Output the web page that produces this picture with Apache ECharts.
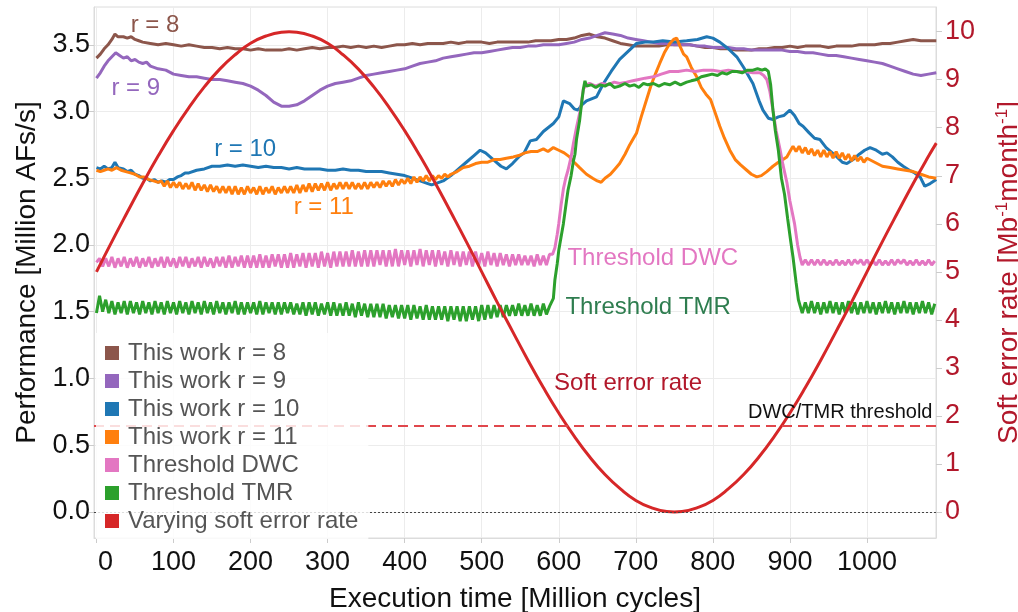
<!DOCTYPE html>
<html>
<head>
<meta charset="utf-8">
<title>Performance and soft error rate over execution time</title>
<script src="https://cdn.jsdelivr.net/npm/echarts@6.0.0/dist/echarts.min.js"></script>
<style>
  html, body { margin: 0; padding: 0; background: #ffffff; }
  #chart { width: 1018px; height: 612px; }
</style>
</head>
<body>
<div id="chart"></div>
<script>
// ---------- axis ticks ----------
const xTicks = [0, 100, 200, 300, 400, 500, 600, 700, 800, 900, 1000];
const perfTicks = [0, 0.5, 1.0, 1.5, 2.0, 2.5, 3.0, 3.5];
const serTicks = [0, 1, 2, 3, 4, 5, 6, 7, 8, 9, 10];
const serThreshold = 1.8;   // DWC/TMR switching threshold [Mb^-1 month^-1]

const seriesNames = [
  'This work r = 8', 'This work r = 9', 'This work r = 10', 'This work r = 11',
  'Threshold DWC', 'Threshold TMR', 'Varying soft error rate'
];

// ---------- performance [Million AFs/s] vs execution time [Million cycles] ----------
const r8 = [[0,3.40],[5,3.43],[10,3.47],[15,3.50],[20,3.54],[24,3.58],[28,3.56],[35,3.56],[40,3.55],[45,3.56],
  [50,3.54],[55,3.53],[60,3.52],[70,3.51],[80,3.50],[90,3.51],[100,3.50],[110,3.49],[120,3.50],[130,3.49],
  [140,3.48],[150,3.48],[160,3.47],[170,3.48],[180,3.47],[190,3.47],[200,3.46],[210,3.47],[220,3.46],[230,3.46],
  [240,3.46],[250,3.47],[260,3.46],[270,3.47],[280,3.48],[290,3.47],[300,3.48],[310,3.48],[320,3.49],[330,3.48],
  [340,3.49],[350,3.48],[360,3.49],[370,3.48],[380,3.49],[390,3.50],[400,3.50],[410,3.51],[420,3.50],[430,3.51],
  [440,3.51],[450,3.51],[460,3.52],[470,3.51],[480,3.52],[490,3.52],[500,3.52],[510,3.51],[520,3.52],[530,3.52],
  [540,3.52],[550,3.52],[560,3.52],[570,3.53],[580,3.53],[590,3.53],[600,3.54],[610,3.54],[620,3.55],[630,3.57],
  [640,3.58],[650,3.56],[660,3.55],[670,3.53],[680,3.51],[690,3.50],[700,3.49],[710,3.49],[720,3.49],[730,3.49],
  [740,3.50],[750,3.50],[760,3.50],[770,3.50],[780,3.49],[790,3.48],[800,3.48],[810,3.47],[820,3.47],[830,3.46],
  [840,3.46],[850,3.46],[860,3.47],[870,3.47],[880,3.48],[890,3.48],[900,3.49],[910,3.48],[920,3.49],[930,3.49],
  [940,3.49],[950,3.48],[960,3.49],[970,3.49],[980,3.49],[990,3.50],[1000,3.50],[1010,3.50],[1020,3.51],[1030,3.51],
  [1040,3.52],[1050,3.53],[1060,3.54],[1070,3.53],[1080,3.53],[1090,3.53]];

const r9 = [[0,3.25],[5,3.29],[10,3.34],[15,3.38],[20,3.41],[25,3.44],[30,3.42],[35,3.40],[40,3.41],[45,3.38],
  [50,3.39],[55,3.37],[60,3.36],[65,3.37],[70,3.34],[80,3.32],[90,3.31],[100,3.28],[110,3.27],[120,3.26],
  [130,3.26],[140,3.25],[150,3.24],[160,3.24],[170,3.23],[180,3.22],[190,3.21],[200,3.19],[210,3.16],[220,3.12],
  [230,3.07],[240,3.04],[250,3.04],[260,3.05],[270,3.08],[280,3.12],[290,3.16],[300,3.19],[310,3.21],[320,3.22],
  [330,3.23],[340,3.25],[350,3.27],[360,3.28],[370,3.29],[380,3.30],[390,3.31],[400,3.32],[410,3.34],[420,3.36],
  [430,3.37],[440,3.38],[450,3.40],[460,3.41],[470,3.42],[480,3.43],[490,3.44],[500,3.44],[510,3.45],[520,3.46],
  [530,3.47],[540,3.48],[550,3.48],[560,3.49],[570,3.49],[580,3.50],[590,3.50],[600,3.50],[610,3.51],[620,3.52],
  [630,3.54],[640,3.55],[650,3.57],[660,3.59],[670,3.58],[680,3.57],[690,3.55],[700,3.54],[710,3.53],[720,3.52],
  [730,3.51],[740,3.51],[750,3.50],[760,3.50],[770,3.50],[780,3.49],[790,3.49],[800,3.48],[810,3.48],[820,3.48],
  [830,3.47],[840,3.47],[850,3.46],[860,3.46],[870,3.46],[880,3.46],[890,3.46],[900,3.45],[910,3.45],[920,3.44],
  [930,3.44],[940,3.43],[950,3.42],[960,3.42],[970,3.41],[980,3.40],[990,3.39],[1000,3.38],[1010,3.37],[1020,3.36],
  [1030,3.34],[1040,3.32],[1050,3.30],[1060,3.28],[1070,3.27],[1080,3.28],[1090,3.29]];

const r10 = [[0,2.58],[5,2.57],[10,2.59],[15,2.57],[20,2.58],[24,2.62],[28,2.58],[35,2.57],[40,2.55],[45,2.56],
  [50,2.53],[55,2.52],[60,2.50],[65,2.50],[70,2.48],[75,2.49],[80,2.47],[85,2.48],[90,2.47],[95,2.49],
  [100,2.49],[105,2.51],[110,2.52],[115,2.54],[120,2.54],[130,2.56],[140,2.57],[150,2.59],[160,2.59],[170,2.60],
  [180,2.59],[190,2.60],[200,2.59],[210,2.58],[220,2.59],[230,2.58],[240,2.58],[250,2.57],[260,2.58],[270,2.57],
  [280,2.57],[290,2.57],[300,2.56],[310,2.56],[320,2.57],[330,2.56],[340,2.56],[350,2.55],[360,2.55],[370,2.55],
  [380,2.54],[390,2.53],[400,2.52],[410,2.50],[420,2.48],[430,2.46],[435,2.45],[440,2.46],[450,2.48],[460,2.52],
  [470,2.57],[480,2.62],[490,2.67],[498,2.71],[505,2.69],[515,2.64],[525,2.59],[532,2.57],[540,2.61],[548,2.66],
  [555,2.69],[563,2.78],[571,2.79],[580,2.85],[593,2.91],[600,2.96],[606,3.08],[614,3.06],[620,3.02],[625,3.01],
  [630,3.05],[636,3.08],[649,3.11],[658,3.21],[668,3.30],[679,3.39],[690,3.45],[701,3.51],[712,3.52],[723,3.52],
  [735,3.53],[750,3.52],[766,3.53],[780,3.54],[792,3.56],[800,3.55],[809,3.52],[820,3.47],[831,3.41],[840,3.33],
  [852,3.21],[860,3.08],[865,3.01],[872,2.95],[878,2.94],[885,2.96],[892,2.97],[900,3.01],[906,2.97],[912,2.91],
  [917,2.89],[925,2.84],[932,2.80],[939,2.79],[947,2.73],[955,2.69],[961,2.66],[968,2.62],[974,2.61],[982,2.64],
  [990,2.68],[997,2.71],[1004,2.73],[1012,2.71],[1020,2.68],[1026,2.69],[1033,2.66],[1040,2.62],[1047,2.59],[1055,2.56],
  [1062,2.54],[1069,2.51],[1075,2.44],[1082,2.46],[1090,2.49]];

const r11Head = [[0,2.56],[5,2.55],[10,2.56],[15,2.57],[20,2.56],[26,2.58],[32,2.56],[38,2.55],[44,2.54],[50,2.53],
  [56,2.51],[62,2.51],[68,2.49],[74,2.48],[80,2.47]];
// r = 11, every 4 Mcycles from 84 to 456
const r11WaveA = [2.48,2.44,2.48,2.43,2.47,2.43,2.47,2.42,2.46,2.42,
  2.47,2.41,2.46,2.41,2.45,2.40,2.45,2.40,2.44,2.39,
  2.44,2.39,2.44,2.38,2.44,2.38,2.43,2.38,2.44,2.39,
  2.43,2.38,2.44,2.38,2.43,2.39,2.44,2.38,2.43,2.39,
  2.44,2.39,2.44,2.39,2.45,2.39,2.45,2.40,2.46,2.40,
  2.46,2.41,2.46,2.41,2.47,2.41,2.46,2.42,2.47,2.42,
  2.47,2.42,2.47,2.42,2.46,2.42,2.47,2.42,2.47,2.43,
  2.47,2.43,2.48,2.44,2.48,2.44,2.49,2.45,2.49,2.46,
  2.50,2.46,2.51,2.47,2.51,2.48,2.52,2.48,2.52,2.49,
  2.52,2.50,2.53,2.51];
const r11Mid = [[460,2.53],[468,2.55],[476,2.58],[484,2.59],[492,2.61],[500,2.62],[508,2.62],[516,2.64],[524,2.64],[532,2.65],
  [541,2.66],[548,2.67],[556,2.69],[564,2.70],[572,2.70],[580,2.72],[586,2.70],[593,2.73],[600,2.71],[607,2.69],
  [614,2.66],[620,2.62],[627,2.58],[636,2.53],[644,2.50],[650,2.48],[655,2.47],[660,2.50],[667,2.53],[673,2.57],
  [679,2.61],[686,2.68],[692,2.75],[697,2.80],[701,2.84],[707,2.96],[714,3.09],[720,3.20],[726,3.29],[731,3.36],
  [737,3.44],[744,3.51],[749,3.54],[753,3.55],[758,3.48],[762,3.43],[766,3.41],[772,3.33],[779,3.26],[785,3.18],
  [791,3.13],[797,3.09],[803,2.99],[809,2.89],[815,2.80],[822,2.71],[829,2.64],[836,2.60],[844,2.56],[850,2.53],
  [857,2.51],[863,2.52],[870,2.55],[878,2.59],[885,2.62],[891,2.64],[896,2.66],[900,2.70]];
// r = 11, every 4 Mcycles from 904 to 1000
const r11WaveB = [2.74,2.70,2.74,2.69,2.73,2.68,2.72,2.67,2.71,2.66,
  2.71,2.66,2.70,2.65,2.70,2.65,2.69,2.64,2.68,2.63,
  2.67,2.63,2.66,2.62,2.65];
const r11Tail = [[1010,2.62],[1020,2.59],[1030,2.58],[1040,2.57],[1050,2.56],[1060,2.55],[1070,2.53],[1080,2.51],[1090,2.50]];

// Threshold DWC, every 4 Mcycles from 0 to 588
const dwcHead = [1.87,1.90,1.84,1.90,1.84,1.91,1.83,1.90,1.84,1.91,
  1.83,1.90,1.84,1.91,1.83,1.90,1.84,1.91,1.83,1.90,
  1.84,1.91,1.83,1.91,1.84,1.90,1.83,1.91,1.84,1.91,
  1.83,1.90,1.84,1.91,1.83,1.91,1.84,1.90,1.83,1.91,
  1.84,1.91,1.83,1.92,1.83,1.91,1.84,1.92,1.83,1.92,
  1.83,1.92,1.83,1.93,1.83,1.92,1.83,1.93,1.84,1.93,
  1.83,1.93,1.83,1.94,1.83,1.93,1.84,1.94,1.83,1.94,
  1.84,1.94,1.83,1.95,1.84,1.94,1.83,1.95,1.84,1.95,
  1.84,1.95,1.84,1.96,1.84,1.95,1.84,1.96,1.84,1.96,
  1.84,1.96,1.85,1.96,1.84,1.96,1.84,1.97,1.84,1.96,
  1.85,1.96,1.84,1.96,1.85,1.97,1.84,1.96,1.85,1.96,
  1.84,1.96,1.85,1.95,1.84,1.96,1.85,1.95,1.84,1.95,
  1.85,1.95,1.84,1.95,1.85,1.94,1.84,1.95,1.85,1.94,
  1.84,1.94,1.85,1.93,1.84,1.93,1.85,1.93,1.85,1.92,
  1.85,1.92,1.84,1.93,1.85,1.92,1.85,1.93];
const dwcRamp = [[592,1.93],[595,1.98],[598,2.08],[600,2.16],[603,2.30],[606,2.42],[609,2.50],[612,2.56],[616,2.66],[619,2.76],
  [623,2.88],[628,3.01],[632,3.17],[636,3.20],[640,3.21],[648,3.19],[656,3.21],[664,3.20],[672,3.22],[679,3.21],
  [688,3.22],[696,3.23],[704,3.24],[712,3.25],[723,3.26],[733,3.28],[744,3.30],[755,3.30],[766,3.31],[777,3.30],
  [788,3.31],[799,3.31],[810,3.30],[820,3.31],[831,3.30],[842,3.30],[852,3.29],[861,3.29],[866,3.27],[870,3.24],
  [874,3.15],[878,3.01],[882,2.86],[887,2.72],[891,2.60],[896,2.47],[900,2.33],[906,2.16],[910,2.00],[913,1.91]];
// Threshold DWC, every 4 Mcycles from 916 to 1088
const dwcTail = [1.85,1.89,1.85,1.89,1.85,1.89,1.85,1.89,1.85,1.88,
  1.85,1.89,1.85,1.88,1.85,1.89,1.85,1.89,1.86,1.89,
  1.85,1.89,1.85,1.88,1.85,1.89,1.85,1.88,1.85,1.89,
  1.85,1.89,1.86,1.89,1.85,1.88,1.85,1.89,1.85,1.88,
  1.85,1.89,1.85,1.88];

// Threshold TMR, every 4 Mcycles from 0 to 588
const tmrHead = [1.49,1.62,1.50,1.59,1.49,1.58,1.48,1.57,1.49,1.58,
  1.48,1.58,1.49,1.57,1.48,1.58,1.49,1.57,1.48,1.58,
  1.49,1.57,1.48,1.58,1.49,1.57,1.48,1.58,1.49,1.57,
  1.48,1.58,1.49,1.57,1.48,1.58,1.49,1.57,1.48,1.58,
  1.49,1.57,1.48,1.57,1.49,1.58,1.48,1.57,1.48,1.57,
  1.49,1.57,1.48,1.58,1.48,1.57,1.49,1.57,1.48,1.57,
  1.48,1.57,1.49,1.57,1.48,1.56,1.48,1.57,1.47,1.57,
  1.48,1.57,1.47,1.56,1.48,1.57,1.47,1.57,1.47,1.56,
  1.47,1.57,1.47,1.56,1.46,1.57,1.47,1.56,1.46,1.56,
  1.46,1.56,1.46,1.56,1.45,1.55,1.46,1.55,1.45,1.55,
  1.45,1.55,1.44,1.55,1.45,1.54,1.44,1.55,1.44,1.54,
  1.44,1.54,1.44,1.54,1.43,1.54,1.44,1.54,1.43,1.54,
  1.43,1.54,1.44,1.54,1.43,1.55,1.44,1.55,1.45,1.55,
  1.46,1.55,1.46,1.55,1.47,1.55,1.47,1.56,1.47,1.55,
  1.47,1.56,1.47,1.55,1.47,1.56,1.48,1.54];
const tmrRamp = [[590,1.54],[593,1.60],[595,1.74],[598,1.86],[600,1.96],[603,2.06],[606,2.16],[610,2.33],[612,2.41],[616,2.52],
  [619,2.63],[621,2.68],[623,2.79],[627,2.93],[630,3.08],[632,3.17],[634,3.23],[636,3.19],[642,3.20],[648,3.18],
  [654,3.20],[660,3.19],[666,3.21],[672,3.18],[679,3.19],[686,3.21],[692,3.19],[698,3.20],[704,3.18],[710,3.21],
  [716,3.20],[723,3.21],[730,3.19],[737,3.21],[744,3.20],[751,3.22],[758,3.20],[766,3.22],[772,3.23],[779,3.24],
  [785,3.26],[792,3.27],[799,3.28],[806,3.27],[812,3.29],[818,3.28],[825,3.30],[831,3.30],[838,3.29],[845,3.31],
  [852,3.31],[858,3.32],[864,3.31],[868,3.32],[872,3.30],[875,3.20],[878,3.01],[881,2.86],[885,2.71],[889,2.50],
  [893,2.38],[897,2.20],[901,2.03],[904,1.91],[908,1.72],[911,1.59]];
// Threshold TMR, every 4 Mcycles from 916 to 1088
const tmrTail = [1.49,1.57,1.49,1.58,1.49,1.57,1.48,1.57,1.49,1.58,
  1.49,1.57,1.48,1.57,1.49,1.58,1.49,1.57,1.48,1.57,
  1.49,1.58,1.49,1.57,1.48,1.57,1.49,1.58,1.49,1.57,
  1.48,1.57,1.49,1.58,1.49,1.57,1.48,1.57,1.49,1.58,
  1.49,1.57,1.48,1.56];

// ---------- soft error rate [Mb^-1 month^-1] ----------
const ser = [[0,5.00],[20,5.63],[40,6.24],[60,6.84],[80,7.41],[100,7.94],[120,8.42],[140,8.85],[160,9.22],[180,9.52],
  [200,9.76],[220,9.91],[240,9.99],[250,10.00],[260,9.99],[280,9.91],[300,9.76],[320,9.52],[340,9.22],[360,8.85],
  [380,8.42],[400,7.94],[420,7.41],[440,6.84],[460,6.24],[480,5.63],[500,5.00],[520,4.37],[540,3.76],[560,3.16],
  [580,2.59],[600,2.06],[620,1.58],[640,1.15],[660,0.78],[680,0.48],[700,0.24],[720,0.09],[740,0.01],[750,0.00],
  [760,0.01],[780,0.09],[800,0.24],[820,0.48],[840,0.78],[860,1.15],[880,1.58],[900,2.06],[920,2.59],[940,3.16],
  [960,3.76],[980,4.37],[1000,5.00],[1020,5.63],[1040,6.24],[1060,6.84],[1080,7.41],[1090,7.68]];

// ---------- assembling the drawn series ----------
function sampled(start, step, values) {
  return values.map((v, i) => [start + i * step, v]);
}
const r11 = [].concat(r11Head, sampled(84, 4, r11WaveA), r11Mid, sampled(904, 4, r11WaveB), r11Tail);
const dwc = [].concat(sampled(0, 4, dwcHead), dwcRamp, sampled(916, 4, dwcTail));
const tmr = [].concat(sampled(0, 4, tmrHead), tmrRamp, sampled(916, 4, tmrTail));

const FONT = '"Liberation Sans", Arial, Helvetica, sans-serif';
const colors = ['#8c564b', '#9467bd', '#1f77b4', '#ff7f0e', '#e377c2', '#2ca02c', '#d62728'];
const darkRed = '#b2182b';

// in-plot curve annotations, anchored in (time, performance) coordinates
const notes = [
  { text: 'r = 8',           at: [76, 3.648],  color: '#8c564b' },
  { text: 'r = 9',           at: [51, 3.175],  color: '#9467bd' },
  { text: 'r = 10',          at: [193, 2.718], color: '#1f77b4' },
  { text: 'r = 11',          at: [295, 2.284], color: '#ff7f0e' },
  { text: 'Threshold DWC',   at: [722, 1.90],  color: '#e377c2' },
  { text: 'Threshold TMR',   at: [716, 1.533], color: '#2e7d4f' },
  { text: 'Soft error rate', at: [690, 0.96],  color: darkRed }
];
// threshold caption, right-aligned at the end of the dashed line (time, soft error rate)
const thresholdCaption = { text: 'DWC/TMR threshold', at: [1085, serThreshold] };

function lineSeries(name, color, data, extra) {
  return Object.assign({
    name: name,
    type: 'line',
    data: data,
    xAxisIndex: 0,
    yAxisIndex: 0,
    showSymbol: false,
    symbol: 'none',
    silent: true,
    lineStyle: { color: color, width: 3 },
    itemStyle: { color: color },
    emphasis: { disabled: true }
  }, extra || {});
}

const chart = echarts.init(document.getElementById('chart'), null, { renderer: 'canvas' });

const option = {
  animation: false,
  textStyle: { fontFamily: FONT },
  grid: {
    left: 94, right: 82, top: 7, bottom: 74,
    containLabel: false,
    outerBoundsMode: 'none',
    show: true, borderColor: '#dcdcdc', borderWidth: 1
  },
  legend: {
    data: seriesNames,
    orient: 'vertical',
    left: 96, top: 333,
    z: 20,
    padding: [8, 10, 6, 9],
    itemWidth: 14, itemHeight: 14, itemGap: 4,
    icon: 'rect',
    backgroundColor: 'rgba(255,255,255,0.82)',
    textStyle: { fontSize: 24, color: '#555555', fontFamily: FONT, padding: [0, 0, 0, 4] },
    selectedMode: false
  },
  xAxis: {
    type: 'value',
    min: -3.2, max: 1089.6,
    name: 'Execution time [Million cycles]',
    nameLocation: 'middle',
    nameGap: 47,
    nameTextStyle: { fontSize: 28, color: '#111111', fontFamily: FONT },
    axisLine: { show: true, onZero: false, lineStyle: { color: '#dcdcdc' } },
    axisTick: { show: true, length: 5, customValues: xTicks, lineStyle: { color: '#cccccc' } },
    axisLabel: {
      customValues: xTicks,
      fontSize: 27, color: '#111111', fontFamily: FONT, margin: 11,
      formatter: v => (v === 0 ? '{z|0}' : String(v)),
      rich: { z: { fontSize: 27, color: '#111111', fontFamily: FONT, padding: [0, 0, 0, 18] } }
    },
    splitLine: { show: true, lineStyle: { color: '#ececec', width: 1 } }
  },
  yAxis: [
    {
      type: 'value',
      position: 'left',
      min: -0.195, max: 3.783,
      name: 'Performance [Million AFs/s]',
      nameLocation: 'middle',
      nameRotate: 90,
      nameGap: 47,
      nameTextStyle: { fontSize: 28, color: '#111111', fontFamily: FONT },
      axisLine: { show: true, onZero: false, lineStyle: { color: '#dcdcdc' } },
      axisTick: { show: true, length: 5, customValues: perfTicks, lineStyle: { color: '#cccccc' } },
      axisLabel: {
        customValues: perfTicks,
        fontSize: 27, color: '#111111', fontFamily: FONT, margin: 4,
        formatter: v => v.toFixed(1)
      },
      splitLine: { show: true, lineStyle: { color: '#ececec', width: 1 } }
    },
    {
      type: 'value',
      position: 'right',
      min: -0.542, max: 10.514,
      name: 'Soft error rate [Mb{s|-1}month{s|-1}]',
      nameLocation: 'middle',
      nameRotate: 90,
      nameGap: 58,
      nameTextStyle: {
        fontSize: 28, color: darkRed, fontFamily: FONT, lineHeight: 30,
        rich: { s: { fontSize: 17, color: darkRed, fontFamily: FONT, lineHeight: 16, verticalAlign: 'top' } }
      },
      axisLine: { show: true, onZero: false, lineStyle: { color: '#dcdcdc' } },
      axisTick: { show: true, length: 6, customValues: serTicks, lineStyle: { color: '#cccccc' } },
      axisLabel: {
        customValues: serTicks,
        fontSize: 27, color: darkRed, fontFamily: FONT, margin: 9
      },
      splitLine: { show: false }
    }
  ],
  series: [
    lineSeries(seriesNames[0], colors[0], r8),
    lineSeries(seriesNames[1], colors[1], r9),
    lineSeries(seriesNames[2], colors[2], r10),
    lineSeries(seriesNames[3], colors[3], r11),
    lineSeries(seriesNames[4], colors[4], dwc),
    lineSeries(seriesNames[5], colors[5], tmr, {
      markLine: {
        silent: true, symbol: 'none',
        label: { show: false },
        lineStyle: { color: '#444444', type: [2, 2], width: 1 },
        data: [{ yAxis: 0 }]
      }
    }),
    lineSeries(seriesNames[6], colors[6], ser, {
      yAxisIndex: 1,
      smooth: true,
      markLine: {
        silent: true, symbol: 'none',
        lineStyle: { color: '#e0474c', type: [10, 6], width: 2 },
        label: { show: false },
        data: [{ yAxis: serThreshold }]
      }
    })
  ]
};

chart.setOption(option);

// place the curve annotations through the axes' own scales
function textAt(p, text, color, size, align) {
  return {
    type: 'text', x: p[0], y: p[1], silent: true, z: 20,
    style: {
      text: text, fill: color,
      font: size + 'px ' + FONT, fontSize: size, fontFamily: FONT,
      align: align, verticalAlign: 'middle',
      textAlign: align, textVerticalAlign: 'middle'
    }
  };
}
const graphics = notes.map(n =>
  textAt(chart.convertToPixel({ xAxisIndex: 0, yAxisIndex: 0 }, n.at), n.text, n.color, 24, 'center'));
const capPos = chart.convertToPixel({ xAxisIndex: 0, yAxisIndex: 1 }, thresholdCaption.at);
graphics.push(textAt([capPos[0], capPos[1] - 13], thresholdCaption.text, '#111111', 20, 'right'));
chart.setOption({ graphic: graphics });
</script>
</body>
</html>
